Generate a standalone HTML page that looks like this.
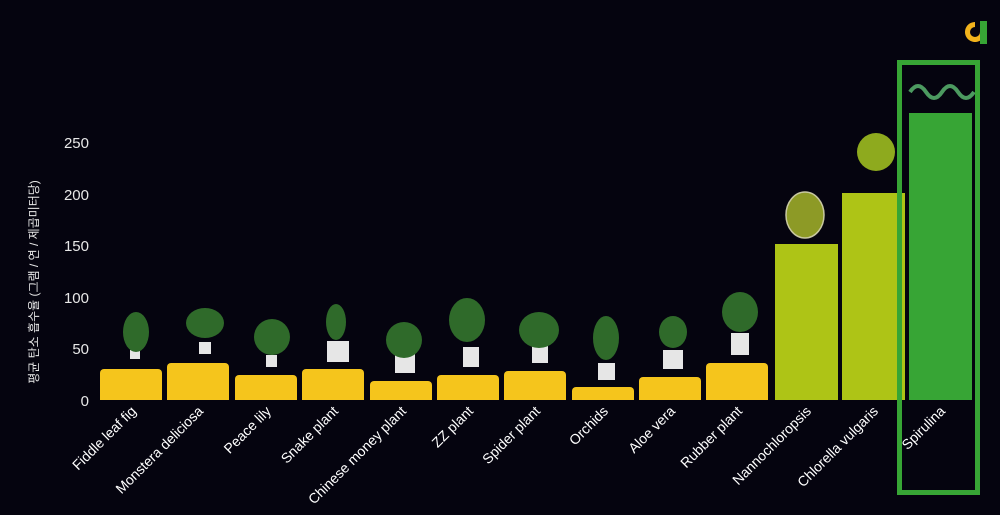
<!DOCTYPE html>
<html><head><meta charset="utf-8"><style>
html,body{margin:0;padding:0;background:#05040f;}
body{width:1000px;height:515px;overflow:hidden;position:relative;font-family:"Liberation Sans","Noto Sans CJK KR",sans-serif;}
</style></head><body>
<svg width="1000" height="515" xmlns="http://www.w3.org/2000/svg" style="position:absolute;left:0;top:0">
<rect width="1000" height="515" fill="#05040f"/>
<g font-family="Liberation Sans, sans-serif" font-size="15" fill="#e8e8e8" text-anchor="end">
<text x="89" y="406">0</text><text x="89" y="354">50</text><text x="89" y="303">100</text>
<text x="89" y="251">150</text><text x="89" y="200">200</text><text x="89" y="148">250</text>
</g>
<text transform="translate(38,282) rotate(-90)" text-anchor="middle" font-family="Liberation Sans, Noto Sans CJK KR, sans-serif" font-size="12" fill="#e8e8e8">평균 탄소 흡수율 (그램 / 연 / 제곱미터당)</text>
<g>
<path d="M100,400V373a4,4 0 0 1 4,-4H158a4,4 0 0 1 4,4V400Z" fill="#f5c51c"/>
<path d="M167,400V367a4,4 0 0 1 4,-4H225a4,4 0 0 1 4,4V400Z" fill="#f5c51c"/>
<path d="M235,400V379a4,4 0 0 1 4,-4H293a4,4 0 0 1 4,4V400Z" fill="#f5c51c"/>
<path d="M302,400V373a4,4 0 0 1 4,-4H360a4,4 0 0 1 4,4V400Z" fill="#f5c51c"/>
<path d="M370,400V385a4,4 0 0 1 4,-4H428a4,4 0 0 1 4,4V400Z" fill="#f5c51c"/>
<path d="M437,400V379a4,4 0 0 1 4,-4H495a4,4 0 0 1 4,4V400Z" fill="#f5c51c"/>
<path d="M504,400V375a4,4 0 0 1 4,-4H562a4,4 0 0 1 4,4V400Z" fill="#f5c51c"/>
<path d="M572,400V391a4,4 0 0 1 4,-4H630a4,4 0 0 1 4,4V400Z" fill="#f5c51c"/>
<path d="M639,400V381a4,4 0 0 1 4,-4H697a4,4 0 0 1 4,4V400Z" fill="#f5c51c"/>
<path d="M706,400V367a4,4 0 0 1 4,-4H764a4,4 0 0 1 4,4V400Z" fill="#f5c51c"/>
<rect x="775" y="244" width="63" height="156" fill="#aec416"/>
<rect x="842" y="193" width="63" height="207" fill="#aec416"/>
<rect x="909" y="113" width="63" height="287" fill="#37a535"/>
</g>
<g id="plants">
<g fill="#e6e6e6">
<rect x="130" y="350" width="10" height="9"/><rect x="199" y="342" width="12" height="12"/><rect x="266" y="355" width="11" height="12"/>
<rect x="327" y="341" width="22" height="21"/><rect x="395" y="353" width="20" height="20"/><rect x="463" y="347" width="16" height="20"/>
<rect x="532" y="346" width="16" height="17"/><rect x="598" y="363" width="17" height="17"/><rect x="663" y="350" width="20" height="19"/>
<rect x="731" y="333" width="18" height="22"/>
</g>
<g fill="#2f6a2a">
<ellipse cx="136" cy="332" rx="13" ry="20"/><ellipse cx="205" cy="323" rx="19" ry="15"/><ellipse cx="272" cy="337" rx="18" ry="18"/>
<ellipse cx="336" cy="322" rx="10" ry="18"/><ellipse cx="404" cy="340" rx="18" ry="18"/><ellipse cx="467" cy="320" rx="18" ry="22"/>
<ellipse cx="539" cy="330" rx="20" ry="18"/><ellipse cx="606" cy="338" rx="13" ry="22"/><ellipse cx="673" cy="332" rx="14" ry="16"/>
<ellipse cx="740" cy="312" rx="18" ry="20"/>
</g>
<ellipse cx="805" cy="215" rx="19" ry="23" fill="#8d9a26" stroke="#c8c8a0" stroke-width="1.5"/>
<circle cx="876" cy="152" r="19" fill="#8eaa1e"/>
<path d="M910,92 q8,-12 16,0 t16,0 t16,0 t16,0" fill="none" stroke="#4c9a60" stroke-width="4"/>
</g>
<rect x="899.5" y="62.5" width="78" height="430" fill="none" stroke="#37a535" stroke-width="5"/>
<g>
<path d="M975,22 a10,10 0 1 0 8,16 l-3,-6 a5,5 0 1 1 -5,-5 z" fill="#f2b31c"/>
<rect x="980" y="21" width="7" height="23" fill="#37a535"/>
</g>
<g font-family="Liberation Sans, sans-serif" font-size="14" fill="#ffffff" text-anchor="end">
<text transform="translate(137,412) rotate(-45)">Fiddle leaf fig</text>
<text transform="translate(204,412) rotate(-45)">Monstera deliciosa</text>
<text transform="translate(272,412) rotate(-45)">Peace lily</text>
<text transform="translate(339,412) rotate(-45)">Snake plant</text>
<text transform="translate(407,412) rotate(-45)">Chinese money plant</text>
<text transform="translate(474,412) rotate(-45)">ZZ plant</text>
<text transform="translate(541,412) rotate(-45)">Spider plant</text>
<text transform="translate(609,412) rotate(-45)">Orchids</text>
<text transform="translate(676,412) rotate(-45)">Aloe vera</text>
<text transform="translate(743,412) rotate(-45)">Rubber plant</text>
<text transform="translate(812,412) rotate(-45)">Nannochloropsis</text>
<text transform="translate(879,412) rotate(-45)">Chlorella vulgaris</text>
<text transform="translate(946,412) rotate(-45)">Spirulina</text>
</g>
</svg>
</body></html>
